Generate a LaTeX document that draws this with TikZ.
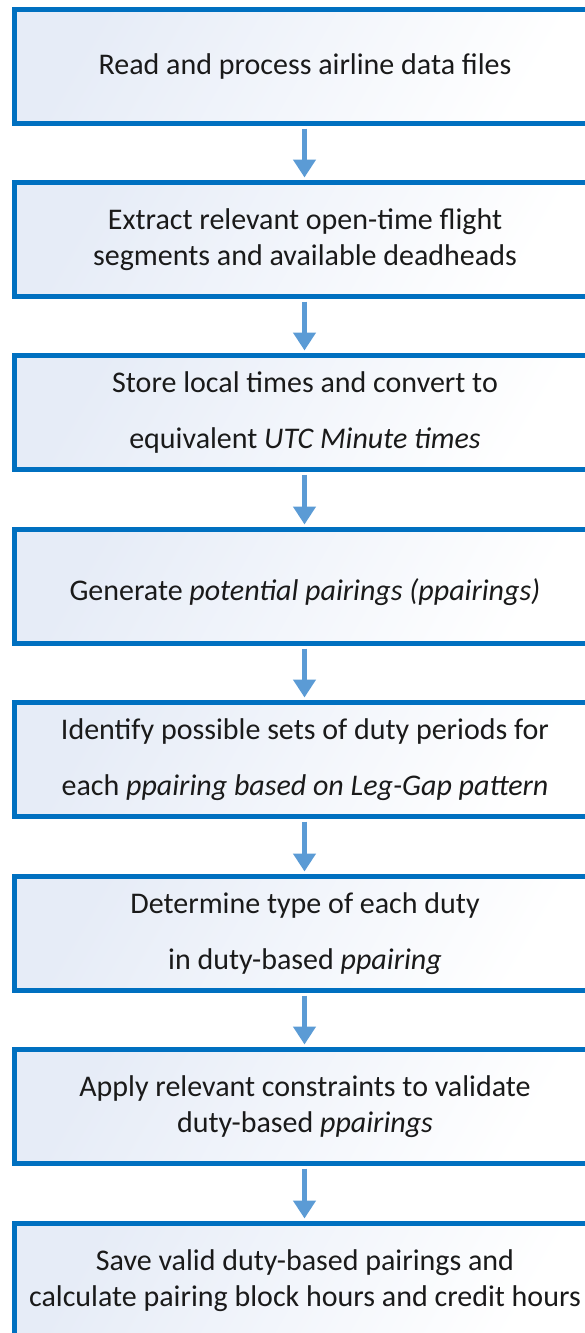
\documentclass[tikz,border=0pt]{standalone}
\usepackage{fontspec}
\setmainfont{Carlito}
\usetikzlibrary{arrows.meta}
\definecolor{frameblue}{HTML}{0070C0}
\definecolor{arrowblue}{HTML}{5B9BD5}
\definecolor{fillblue}{HTML}{E6ECF7}
\definecolor{textdark}{HTML}{1A1A1A}
\tikzset{
  stepbox/.style={draw=frameblue, line width=5pt, top color=fillblue, bottom color=white,
    shading angle=60, minimum width=581pt, minimum height=114pt, inner sep=0pt,
    align=center, text=textdark, font=\fontsize{30}{36.5}\selectfont},
  flow/.style={draw=arrowblue, line width=5pt,
    -{Triangle[width=22pt,length=18pt]}, shorten <=2.5pt, shorten >=2.5pt}
}
\begin{document}
\begin{tikzpicture}[x=1pt,y=-1pt]
\useasboundingbox (0,0) rectangle (585,1333);
\clip (0,0) rectangle (585,1333);
\node[stepbox] (s1) at (305,66.5) {Read and process airline data files};
\node[stepbox] (s2) at (305,239.5) {Extract relevant open-time flight\\segments and available deadheads};
\node[stepbox] (s3) at (305,412.5) {Store local times and convert to\\[19pt]equivalent \textit{UTC Minute times}};
\node[stepbox] (s4) at (305,586.5) {\rule{0pt}{34pt}Generate \textit{potential pairings (ppairings)}};
\node[stepbox] (s5) at (305,759.5) {Identify possible sets of duty periods for\\[19pt]each \textit{ppairing based on Leg-Gap pattern}};
\node[stepbox] (s6) at (305,933.5) {Determine type of each duty\\[19pt]in duty-based \textit{ppairing}};
\node[stepbox] (s7) at (305,1106.5) {Apply relevant constraints to validate\\duty-based \textit{ppairings}};
\node[stepbox] (s8) at (305,1280.5) {Save valid duty-based pairings and\\calculate pairing block hours and credit hours};
\foreach \a/\b in {s1/s2,s2/s3,s3/s4,s4/s5,s5/s6,s6/s7,s7/s8}
  \draw[flow] ([xshift=-0.5pt]\a.south) -- ([xshift=-0.5pt]\b.north);
\end{tikzpicture}
\end{document}
